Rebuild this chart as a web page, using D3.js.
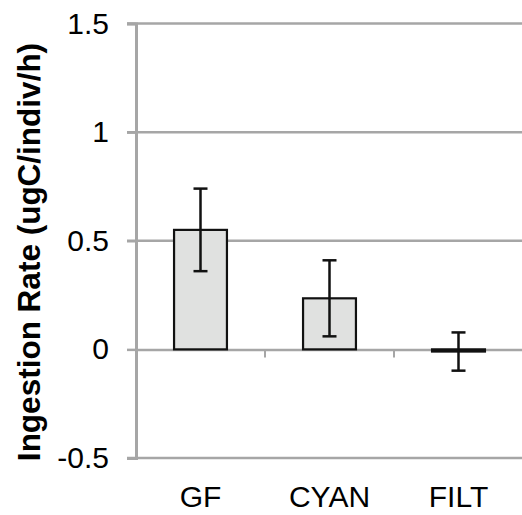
<!DOCTYPE html>
<html>
<head>
<meta charset="utf-8">
<script src="https://cdn.jsdelivr.net/npm/d3@7"></script>
<style>
  body { margin: 0; background: #fff; }
  text { font-family: "Liberation Sans", Arial, sans-serif; fill: #000; }
</style>
</head>
<body>
<div id="chart"></div>
<script>
// data
var categories = ["GF", "CYAN", "FILT"];
var rates = [0.55, 0.235, -0.01];
var errors = [0.19, 0.175, 0.088];
var yTicks = [-0.5, 0, 0.5, 1, 1.5];

var svgWidth = 522;
var svgHeight = 515;

var svg = d3.select("#chart")
  .append("svg")
  .attr("width", svgWidth)
  .attr("height", svgHeight);

// scales
var xScale = d3.scaleBand()
  .domain(categories)
  .range([136, 523])
  .padding(0);

var yScale = d3.scaleLinear()
  .domain([-0.5, 1.5])
  .range([458, 23.5]);

var gridColor = "#a6a6a6";

// horizontal gridlines (zero line is drawn by x axis below)
svg.append("g")
  .selectAll("line")
  .data(yTicks.filter(d => d !== 0))
  .enter()
  .append("line")
  .attr("x1", 127)
  .attr("x2", svgWidth)
  .attr("y1", d => yScale(d))
  .attr("y2", d => yScale(d))
  .attr("stroke", gridColor)
  .attr("stroke-width", 2.5);

// y axis
var leftAxis = d3.axisLeft(yScale)
  .tickValues(yTicks)
  .tickSize(9)
  .tickPadding(18)
  .tickFormat(d => String(d));

var yAxis = svg.append("g")
  .attr("transform", "translate(136, 0)")
  .call(leftAxis);

yAxis.select(".domain")
  .attr("stroke", gridColor)
  .attr("stroke-width", 3);
yAxis.selectAll(".tick line")
  .attr("stroke", gridColor)
  .attr("stroke-width", 2.5);
yAxis.selectAll(".tick text")
  .attr("font-size", 30)
  .attr("fill", "#000")
  .style("font-family", "'Liberation Sans', Arial, sans-serif");

// y axis title
svg.append("text")
  .attr("transform", "rotate(-90)")
  .attr("x", -252)
  .attr("y", 40)
  .attr("text-anchor", "middle")
  .attr("font-size", 31.5)
  .attr("font-weight", "bold")
  .text("Ingestion Rate (ugC/indiv/h)");

// x axis at zero
var bottomAxis = d3.axisBottom(xScale).tickSize(0).tickFormat("");
var xAxis = svg.append("g")
  .attr("transform", `translate(0, ${yScale(0)})`)
  .call(bottomAxis);
xAxis.select(".domain")
  .attr("stroke", gridColor)
  .attr("stroke-width", 2.5);

// category boundary ticks
svg.append("g")
  .selectAll("line")
  .data(categories.slice(1))
  .enter()
  .append("line")
  .attr("x1", d => xScale(d))
  .attr("x2", d => xScale(d))
  .attr("y1", yScale(0))
  .attr("y2", yScale(0) + 8)
  .attr("stroke", gridColor)
  .attr("stroke-width", 2);

// bars
var barW = xScale.bandwidth() * 0.41;
svg.append("g")
  .selectAll("rect")
  .data(categories)
  .enter()
  .append("rect")
  .attr("x", d => xScale(d) + xScale.bandwidth() / 2 - barW / 2)
  .attr("width", barW)
  .attr("y", (d, i) => yScale(Math.max(0, rates[i])))
  .attr("height", (d, i) => Math.abs(yScale(rates[i]) - yScale(0)))
  .attr("fill", "#e0e1e0")
  .attr("stroke", "#111")
  .attr("stroke-width", 2.2);

// error bars
var capW = 14;
var errGroup = svg.append("g")
  .selectAll("g")
  .data(categories)
  .enter()
  .append("g")
  .attr("stroke", "#111")
  .attr("stroke-width", 2.5);

errGroup.append("line")
  .attr("x1", d => xScale(d) + xScale.bandwidth() / 2)
  .attr("x2", d => xScale(d) + xScale.bandwidth() / 2)
  .attr("y1", (d, i) => yScale(rates[i] + errors[i]))
  .attr("y2", (d, i) => yScale(rates[i] - errors[i]));

errGroup.append("line")
  .attr("x1", d => xScale(d) + xScale.bandwidth() / 2 - capW / 2)
  .attr("x2", d => xScale(d) + xScale.bandwidth() / 2 + capW / 2)
  .attr("y1", (d, i) => yScale(rates[i] + errors[i]))
  .attr("y2", (d, i) => yScale(rates[i] + errors[i]));

errGroup.append("line")
  .attr("x1", d => xScale(d) + xScale.bandwidth() / 2 - capW / 2)
  .attr("x2", d => xScale(d) + xScale.bandwidth() / 2 + capW / 2)
  .attr("y1", (d, i) => yScale(rates[i] - errors[i]))
  .attr("y2", (d, i) => yScale(rates[i] - errors[i]));

// category labels
svg.append("g")
  .selectAll("text")
  .data(categories)
  .enter()
  .append("text")
  .attr("x", d => xScale(d) + xScale.bandwidth() / 2)
  .attr("y", 507)
  .attr("text-anchor", "middle")
  .attr("font-size", 30)
  .text(d => d);
</script>
</body>
</html>
